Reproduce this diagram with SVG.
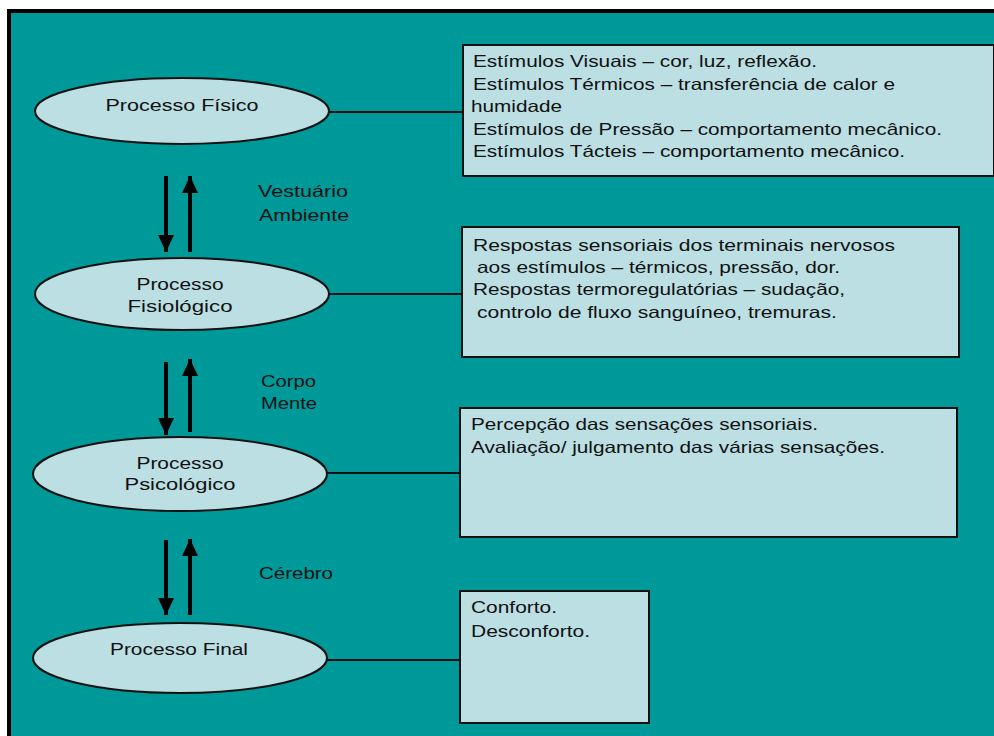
<svg xmlns="http://www.w3.org/2000/svg" width="994" height="736" viewBox="0 0 994 736">
<defs>
<style>
.bg{fill:#009999}
.node{fill:#bbdfe3;stroke:#111;stroke-width:2}
.box{fill:#bbdfe3;stroke:#111;stroke-width:2}
.t{font-family:"Liberation Sans",Arial,sans-serif;font-size:16.5px;fill:#111}
.c{text-anchor:middle}
.conn{stroke:#111;stroke-width:2;fill:none}
.arr{stroke:#000;stroke-width:4;fill:none}
</style>
<marker id="ah" markerUnits="userSpaceOnUse" markerWidth="18" markerHeight="18" refX="17" refY="0" viewBox="0 -9 18 18" orient="auto" overflow="visible">
<path d="M0,-8 L17,0 L0,8 Z" fill="#000"/>
</marker>
</defs>
<rect x="0" y="0" width="994" height="736" fill="#ffffff"/>
<rect class="bg" x="9" y="11" width="985" height="725"/>
<path d="M9,736 V11 H994" stroke="#000" stroke-width="4" fill="none"/>

<g id="connectors">
<line class="conn" x1="329" y1="112" x2="463" y2="112"/>
<line class="conn" x1="329" y1="294" x2="463" y2="294"/>
<line class="conn" x1="327" y1="473" x2="461" y2="473"/>
<line class="conn" x1="327" y1="660" x2="461" y2="660"/>
<line class="arr" x1="166" y1="176" x2="166" y2="252" marker-end="url(#ah)"/>
<line class="arr" x1="190" y1="252" x2="190" y2="176" stroke-width="3" marker-end="url(#ah)"/>
<line class="arr" x1="166" y1="362" x2="166" y2="435" marker-end="url(#ah)"/>
<line class="arr" x1="190" y1="432" x2="190" y2="359" stroke-width="3" marker-end="url(#ah)"/>
<line class="arr" x1="166" y1="540" x2="166" y2="615" marker-end="url(#ah)"/>
<line class="arr" x1="190" y1="615" x2="190" y2="539" stroke-width="3" marker-end="url(#ah)"/>
</g>

<g id="label-vestuario">
<text class="t" x="258" y="197" textLength="90" lengthAdjust="spacingAndGlyphs">Vestuário</text>
<text class="t" x="259" y="221" textLength="90" lengthAdjust="spacingAndGlyphs">Ambiente</text>
</g>
<g id="label-corpo">
<text class="t" x="261" y="387" textLength="55" lengthAdjust="spacingAndGlyphs">Corpo</text>
<text class="t" x="261" y="409" textLength="56" lengthAdjust="spacingAndGlyphs">Mente</text>
</g>
<g id="label-cerebro">
<text class="t" x="259" y="579" textLength="74" lengthAdjust="spacingAndGlyphs">Cérebro</text>
</g>

<g id="node-fisico">
<ellipse class="node" cx="182" cy="111" rx="147" ry="33"/>
<text class="t c" x="182" y="111" textLength="153" lengthAdjust="spacingAndGlyphs">Processo Físico</text>
</g>
<g id="node-fisiologico">
<ellipse class="node" cx="182" cy="294" rx="147" ry="36"/>
<text class="t c" x="180" y="290" textLength="87" lengthAdjust="spacingAndGlyphs">Processo</text>
<text class="t c" x="180" y="312" textLength="105" lengthAdjust="spacingAndGlyphs">Fisiológico</text>
</g>
<g id="node-psicologico">
<ellipse class="node" cx="180" cy="474" rx="147" ry="37"/>
<text class="t c" x="180" y="469" textLength="87" lengthAdjust="spacingAndGlyphs">Processo</text>
<text class="t c" x="180" y="490" textLength="111" lengthAdjust="spacingAndGlyphs">Psicológico</text>
</g>
<g id="node-final">
<ellipse class="node" cx="180" cy="658" rx="147" ry="35"/>
<text class="t c" x="179" y="655" textLength="138" lengthAdjust="spacingAndGlyphs">Processo Final</text>
</g>

<g id="box-fisico">
<rect class="box" x="463" y="45" width="531" height="131"/>
<text class="t" x="473" y="67" textLength="344" lengthAdjust="spacingAndGlyphs">Estímulos Visuais – cor, luz, reflexão.</text>
<text class="t" x="473" y="89.5" textLength="422" lengthAdjust="spacingAndGlyphs">Estímulos Térmicos – transferência de calor e</text>
<text class="t" x="471" y="112" textLength="91" lengthAdjust="spacingAndGlyphs">humidade</text>
<text class="t" x="473" y="134.5" textLength="469" lengthAdjust="spacingAndGlyphs">Estímulos de Pressão – comportamento mecânico.</text>
<text class="t" x="473" y="157" textLength="432" lengthAdjust="spacingAndGlyphs">Estímulos Tácteis – comportamento mecânico.</text>
</g>
<g id="box-fisiologico">
<rect class="box" x="462" y="227" width="497" height="130"/>
<text class="t" x="473" y="251" textLength="422" lengthAdjust="spacingAndGlyphs">Respostas sensoriais dos terminais nervosos</text>
<text class="t" x="477" y="273" textLength="363" lengthAdjust="spacingAndGlyphs">aos estímulos – térmicos, pressão, dor.</text>
<text class="t" x="473" y="295" textLength="372" lengthAdjust="spacingAndGlyphs">Respostas termoregulatórias – sudação,</text>
<text class="t" x="477" y="318" textLength="360" lengthAdjust="spacingAndGlyphs">controlo de fluxo sanguíneo, tremuras.</text>
</g>
<g id="box-psicologico">
<rect class="box" x="460" y="408" width="497" height="129"/>
<text class="t" x="471" y="430" textLength="347" lengthAdjust="spacingAndGlyphs">Percepção das sensações sensoriais.</text>
<text class="t" x="471" y="453" textLength="414" lengthAdjust="spacingAndGlyphs">Avaliação/ julgamento das várias sensações.</text>
</g>
<g id="box-final">
<rect class="box" x="460" y="591" width="189" height="132"/>
<text class="t" x="471" y="613" textLength="86" lengthAdjust="spacingAndGlyphs">Conforto.</text>
<text class="t" x="471" y="637" textLength="119" lengthAdjust="spacingAndGlyphs">Desconforto.</text>
</g>
</svg>
